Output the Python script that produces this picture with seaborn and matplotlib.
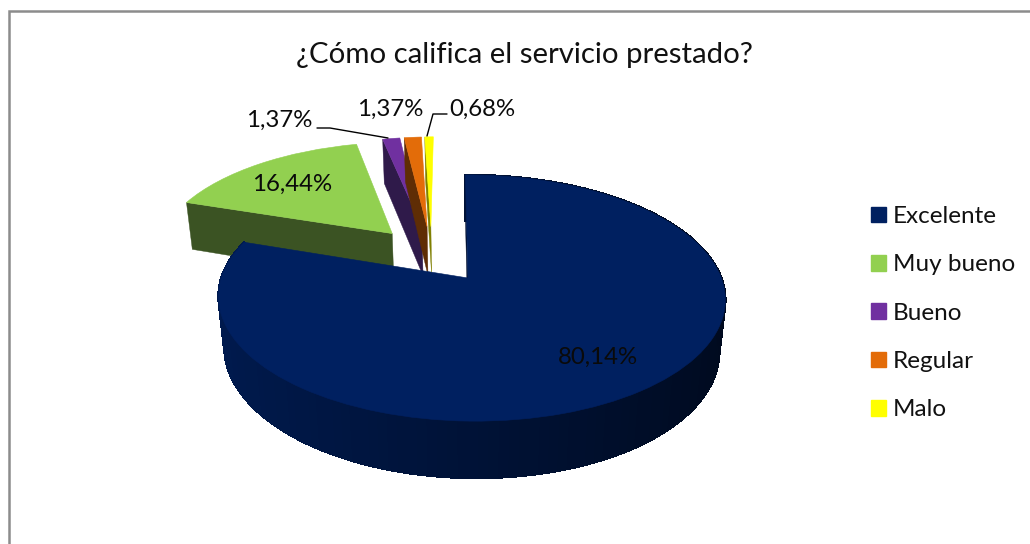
import numpy as np
import matplotlib
matplotlib.use('Agg')
import matplotlib.pyplot as plt
from matplotlib.patches import Patch
from matplotlib.transforms import Transform
import seaborn as sns

# Chart data
categories = ['Excelente', 'Muy bueno', 'Bueno', 'Regular', 'Malo']
values = [80.14, 16.44, 1.37, 1.37, 0.68]
value_labels = ['80,14%', '16,44%', '1,37%', '1,37%', '0,68%']
title = '¿Cómo califica el servicio prestado?'

top_colors = ['#002060', '#92D050', '#7030A0', '#E36C09', '#FFFF00']
wall_colors = ['#000F30', '#3B5323', '#2F1A4A', '#5F2D05', '#7F7F00']
draw_order = [1, 2, 3, 4, 0]

sns.set_theme(style='white')
plt.rcParams['font.family'] = ['Lato', 'DejaVu Sans']

# Projection of the flat pie onto the picture (pixels)
X0, Y0 = 468.0, 278.0
B, A, S = 250.0, 119.8, -3.0
K, M, Q, C = 0.163, -0.0133, 0.024, 52.4


def project(u, v, z=0.0):
    u = np.asarray(u, dtype=float)
    v = np.asarray(v, dtype=float)
    w = 1 + K * v + M * u + Q * z
    return X0 + (B * u + S * v) / w, Y0 - (A * v - C * z) / w


class PieProjection(Transform):
    input_dims = 2
    output_dims = 2
    is_separable = False
    has_inverse = False

    def transform_non_affine(self, values):
        x, y = project(values[:, 0], values[:, 1])
        return np.column_stack([x, y])


fig = plt.figure(figsize=(10.3, 5.44), dpi=100, facecolor='white')
ax = fig.add_axes([0, 0, 1, 1])

# all slices are pulled out by the same amount, the blue apex sits at X0, Y0
explode_by = 0.255
shares = np.array(values) / sum(values)
mid_blue = np.deg2rad(90 - 360 * shares[0] / 2)
center = (-explode_by * np.cos(mid_blue), -explode_by * np.sin(mid_blue))

wedges, _ = ax.pie(values, explode=[explode_by] * 5, colors=top_colors, startangle=90,
                   counterclock=False, center=center, radius=1,
                   wedgeprops={'linewidth': 0.4})
ax.set_aspect('auto')
ax.set_xlim(0, 1030)
ax.set_ylim(544, 0)
ax.set_axis_off()

proj = PieProjection()


def shade(hex_color, factor):
    rgb = np.array(matplotlib.colors.to_rgb(hex_color))
    return tuple(rgb * factor)


for rank, i in enumerate(draw_order):
    wedge = wedges[i]
    zbase = 10 * (rank + 1)
    wedge.set_transform(proj + ax.transData)
    wedge.set_edgecolor(top_colors[i])
    wedge.set_zorder(zbase + 5)
    wedge.set_clip_on(False)
    cx, cy = wedge.center
    t1, t2 = wedge.theta1, wedge.theta2

    # the left cut face, the only one that can be seen
    ux = cx + wedge.r * np.cos(np.deg2rad(t2))
    uy = cy + wedge.r * np.sin(np.deg2rad(t2))
    xa, ya = project([cx, ux], [cy, uy], 0)
    xb, yb = project([cx, ux], [cy, uy], 1)
    ax.fill(np.r_[xa, xb[::-1]], np.r_[ya, yb[::-1]], color=wall_colors[i],
            lw=0.3, zorder=zbase)

    # the rim of the big slice, in strips so it gets darker to the right
    if i == 0:
        edges = np.arange(t1, t2 + 2.0, 2.0)
        edges[-1] = t2
        for a, b in zip(edges[:-1], edges[1:]):
            th = np.deg2rad([a, b])
            u = cx + wedge.r * np.cos(th)
            v = cy + wedge.r * np.sin(th)
            xa, ya = project(u, v, 0)
            xb, yb = project(u, v, 1)
            t = (np.cos(th.mean()) + 1) / 2
            col = shade(top_colors[i], 0.82 - 0.5 * t)
            ax.fill(np.r_[xa, xb[::-1]], np.r_[ya, yb[::-1]], facecolor=col, edgecolor=col,
                    lw=1.0, antialiased=False, zorder=zbase + 1)

# Chart frame, only left and top show in the picture
ax.plot([8.5, 8.5, 1030], [544, 11, 11], color='#8C8C8C', lw=1.8, solid_joinstyle='miter',
        clip_on=False, zorder=1)

ax.text(524, 55, title, fontsize=21.2, color='#111111', ha='center', va='center', zorder=100)

label_xy = [(598, 357), (292, 184), (279, 120), (390, 109), (482, 109)]
for text, (lx, ly) in zip(value_labels, label_xy):
    ax.text(lx, ly, text, fontsize=17.3, color='#0A0A0A', ha='center', va='center', zorder=100)

# Leader lines of the small slices
ax.plot([317, 330, 388], [128, 128, 138], color='black', lw=1, zorder=100)
ax.plot([447, 433, 427], [114, 114, 136], color='black', lw=1, zorder=100)

handles = [Patch(facecolor=c, edgecolor=c, label=n) for c, n in zip(top_colors, categories)]
fs_px = 17.5 * 100 / 72
ax.legend(handles=handles, loc='upper left', bbox_to_anchor=(871, 206),
          bbox_transform=ax.transData, frameon=False, fontsize=17.5, labelspacing=1.124,
          handlelength=15 / fs_px, handleheight=15 / fs_px, handletextpad=7 / fs_px,
          borderpad=0, borderaxespad=0, labelcolor='#111111')

fig.savefig('out.png', dpi=100, facecolor='white')
